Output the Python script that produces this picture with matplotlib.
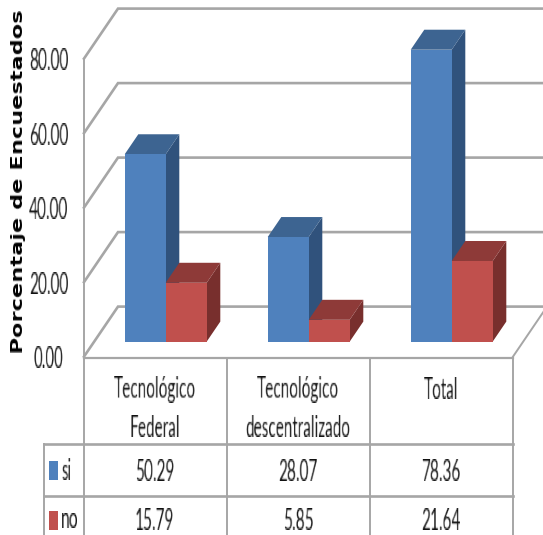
import numpy as np
import matplotlib
matplotlib.use("Agg")
import matplotlib.pyplot as plt
from matplotlib.patches import Polygon, Rectangle
from matplotlib.transforms import Affine2D

W, H = 543, 535
categories = ["Tecnológico\nFederal", "Tecnológico\ndescentralizado", "Total"]
series_names = ["si", "no"]
si_values = [50.29, 28.07, 78.36]
no_values = [15.79, 5.85, 21.64]
y_ticks = [0, 20, 40, 60, 80]
y_title = "Porcentaje de Encuestados"

FRONT = {"si": "#4F81BD", "no": "#C0504D"}
TOP = {"si": "#3D6491", "no": "#8E3A38"}
SIDE = {"si": "#30527C", "no": "#782F2D"}
GRID = "#A6A6A6"
TXT = "#111111"
FONT = "Lato"

PX_X, PX_Y = 143.0, 3.725          # pixels per category / per value unit
X0, Y0 = 84.0, 356.6
DX, DY = 34.0 / PX_X, 50.0 / PX_Y  # depth vector, data units
BAR_W = 41.0 / PX_X


def _resample(img, new_n, axis):
    """Linear resampling of an image along one axis."""
    img = np.moveaxis(img, axis, 0)
    n = img.shape[0]
    pos = np.clip((np.arange(new_n) + 0.5) * n / new_n - 0.5, 0, n - 1)
    lo = np.floor(pos).astype(int)
    hi = np.minimum(lo + 1, n - 1)
    fr = (pos - lo)[(...,) + (None,) * (img.ndim - 1)]
    out = img[lo] * (1 - fr) + img[hi] * fr
    return np.moveaxis(out, 0, axis)


def stretch(sx=1.0, sy=1.0, anchor="center"):
    """Filter that scales a text's rendering, as the stretched original picture did."""
    def f(img, dpi):
        h, w = img.shape[:2]
        nw, nh = max(1, round(w * sx)), max(1, round(h * sy))
        out = _resample(_resample(img, nw, 1), nh, 0)
        ox = 0 if anchor == "left" else (w - nw) // 2
        oy = (h - nh) // 2
        return np.clip(out, 0, 1), ox, oy
    return f


fig = plt.figure(figsize=(W / 100, H / 100), dpi=100, facecolor="white")
ax = fig.add_axes([0, 0, 1, 1])
ax.set_xlim(-X0 / PX_X, (W - X0) / PX_X)
ax.set_ylim(-(H - Y0) / PX_Y, Y0 / PX_Y)
ax.axis("off")
pix = Affine2D().scale(1 / W, -1 / H).translate(0, 1) + fig.transFigure


def prj(x, v, d):
    return (x + d * DX, v + d * DY)


def label(x, y, s, anchor="center", **kw):
    kw.setdefault("transform", pix)
    t = ax.text(x, y, s, ha=anchor, va="center", fontsize=12, family=FONT, color=TXT, **kw)
    t.set_agg_filter(stretch(sx=0.92, sy=1.67, anchor=anchor))
    return t


# walls and floor
n = len(categories)
for t in y_ticks:
    ax.plot(*zip(prj(0, t, 0), prj(0, t, 1), prj(n + 1, t, 1)), color=GRID, lw=1.9, zorder=1,
            solid_joinstyle="miter")
ax.plot([0, 0], [0, y_ticks[-1]], color=GRID, lw=1.4, zorder=1)
ax.plot(*zip(prj(n, 0, 0), prj(n, 0, 1)), color=GRID, lw=1.4, zorder=1)

# bars
D0, D1 = 0.3, 0.7
for i in range(n):
    for k, (name, vals) in enumerate(zip(series_names, (si_values, no_values))):
        v = vals[i]
        x0 = i + 0.5 - BAR_W + k * BAR_W
        x1 = x0 + BAR_W
        z = 3 + k
        ax.add_patch(Polygon([prj(x1, 0, D0), prj(x1, 0, D1), prj(x1, v, D1), prj(x1, v, D0)],
                             fc=SIDE[name], ec="none", zorder=z))
        ax.add_patch(Polygon([prj(x0, v, D0), prj(x1, v, D0), prj(x1, v, D1), prj(x0, v, D1)],
                             fc=TOP[name], ec="none", zorder=z))
        ax.add_patch(Polygon([prj(x0, 0, D0), prj(x1, 0, D0), prj(x1, v, D0), prj(x0, v, D0)],
                             fc=FRONT[name], ec="none", zorder=z))

# y tick labels and title
for t in y_ticks:
    label(-0.243, t - 0.5, f"{t:.2f}", transform=ax.transData)
title = ax.text(18.5, 181, y_title, transform=pix, rotation=90, ha="center", va="center",
                fontsize=11.5, family="DejaVu Sans", weight="bold", color="black")
title.set_agg_filter(stretch(sy=1.4))

# data table
col_x = [84, 226.5, 370, 513]
row_y = [357.5, 444, 495.5, 535]
LEFT = 43.5
for x in col_x:
    ax.plot([x, x], [row_y[0], row_y[-1]], transform=pix, color=GRID, lw=1.4, zorder=1)
ax.plot([LEFT, LEFT], [row_y[1], row_y[-1]], transform=pix, color=GRID, lw=1.4, zorder=1)
ax.plot([col_x[0], col_x[-1]], [row_y[0]] * 2, transform=pix, color=GRID, lw=1.6, zorder=1)
for y in row_y[1:3]:
    ax.plot([LEFT, col_x[-1]], [y, y], transform=pix, color=GRID, lw=1.9, zorder=1)

for i, c in enumerate(categories):
    cx = (col_x[i] + col_x[i + 1]) / 2
    for j, line in enumerate(c.split("\n")):
        label(cx, 389 + 38 * j, line)
    label(cx, 471, f"{si_values[i]:.2f}")
    label(cx, 520, f"{no_values[i]:.2f}")

for name, yc in zip(series_names, (470, 520)):
    ax.add_patch(Rectangle((49, yc - 9.5), 8.5, 19, transform=pix, fc=FRONT[name], ec="none"))
    label(61, yc, name, anchor="left")

fig.savefig("out.png", dpi=100)
